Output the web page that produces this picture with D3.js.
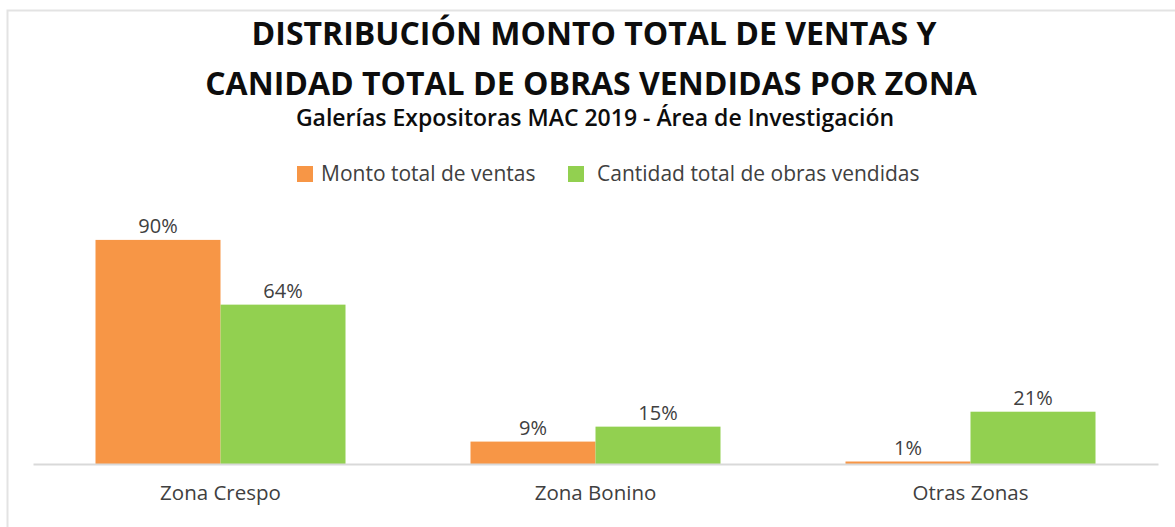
<!DOCTYPE html>
<html>
<head>
<meta charset="utf-8">
<script src="https://d3js.org/d3.v7.min.js"></script>
<style>
  body { margin: 0; background: #fff; }
  text { font-family: "Open Sans", sans-serif; fill: #404040; }
</style>
</head>
<body>
<svg></svg>
<script>
var zonas = ['Zona Crespo', 'Zona Bonino', 'Otras Zonas']
var series = ['Monto total de ventas', 'Cantidad total de obras vendidas']
var montoVentas = [0.90, 0.09, 0.01]
var cantidadObras = [0.64, 0.15, 0.21]
var colores = ['#F79646', '#92D050']

var width = 1175
var height = 527

var svg = d3.select('svg').attr('width', width).attr('height', height)

// marco del grafico
svg.append('path')
    .attr('d', 'M7.5,' + height + ' V10.5 H' + width)
    .attr('fill', 'none')
    .attr('stroke', '#e3e3e3')
    .attr('stroke-width', 2)

var x = d3.scaleBand()
    .domain(zonas)
    .range([33, 1158])
    .paddingInner(1 / 3)
    .paddingOuter(1 / 6)

var xSerie = d3.scaleBand()
    .domain([0, 1])
    .range([0, x.bandwidth()])

var y = d3.scaleLinear()
    .domain([0, 1])
    .range([464, 215])

var datos = []
zonas.forEach((z, i) => {
    datos.push({ zona: z, serie: 0, valor: montoVentas[i] })
    datos.push({ zona: z, serie: 1, valor: cantidadObras[i] })
})

svg.selectAll('rect.bar')
    .data(datos)
    .enter()
    .append('rect')
    .attr('class', 'bar')
    .attr('x', (d) => x(d.zona) + xSerie(d.serie))
    .attr('width', xSerie.bandwidth())
    .attr('y', (d) => y(d.valor))
    .attr('height', (d) => y(0) - y(d.valor))
    .attr('fill', (d) => colores[d.serie])

svg.selectAll('text.valor')
    .data(datos)
    .enter()
    .append('text')
    .attr('class', 'valor')
    .attr('x', (d) => x(d.zona) + xSerie(d.serie) + xSerie.bandwidth() / 2)
    .attr('y', (d) => y(d.valor) - 7)
    .attr('text-anchor', 'middle')
    .style('font-size', '20px')
    .text((d) => d3.format('.0%')(d.valor))

// eje x
var xAxis = d3.axisBottom(x).tickSize(0).tickPadding(21)
var gx = svg.append('g')
    .attr('transform', 'translate(0,' + y(0) + ')')
    .call(xAxis)
gx.select('.domain').attr('stroke', '#d9d9d9').attr('stroke-width', 2)
gx.selectAll('text')
    .style('font-size', '20.5px')
    .style('fill', '#404040')
    .attr('font-family', null)

// titulos
svg.append('text')
    .attr('x', 594).attr('y', 45)
    .attr('text-anchor', 'middle')
    .style('font-size', '32px').style('font-weight', 'bold').style('fill', '#0d0d0d')
    .text('DISTRIBUCIÓN MONTO TOTAL DE VENTAS Y')

svg.append('text')
    .attr('x', 591).attr('y', 95)
    .attr('text-anchor', 'middle')
    .style('font-size', '32px').style('font-weight', 'bold').style('fill', '#0d0d0d')
    .text('CANIDAD TOTAL DE OBRAS VENDIDAS POR ZONA')

svg.append('text')
    .attr('x', 595).attr('y', 126)
    .attr('text-anchor', 'middle')
    .style('font-size', '23px').style('font-weight', '600').style('fill', '#0d0d0d')
    .text('Galerías Expositoras MAC 2019 - Área de Investigación')

// leyenda
var leyendaX = [297, 568]
var leyendaTexto = [24, 29]
var leyenda = svg.selectAll('g.leyenda')
    .data(series)
    .enter()
    .append('g')
    .attr('class', 'leyenda')
    .attr('transform', (d, i) => 'translate(' + leyendaX[i] + ',166)')

leyenda.append('rect')
    .attr('width', 16).attr('height', 16)
    .attr('fill', (d, i) => colores[i])

leyenda.append('text')
    .attr('x', (d, i) => leyendaTexto[i]).attr('y', 15)
    .style('font-size', '21px')
    .text((d) => d)
</script>
</body>
</html>
